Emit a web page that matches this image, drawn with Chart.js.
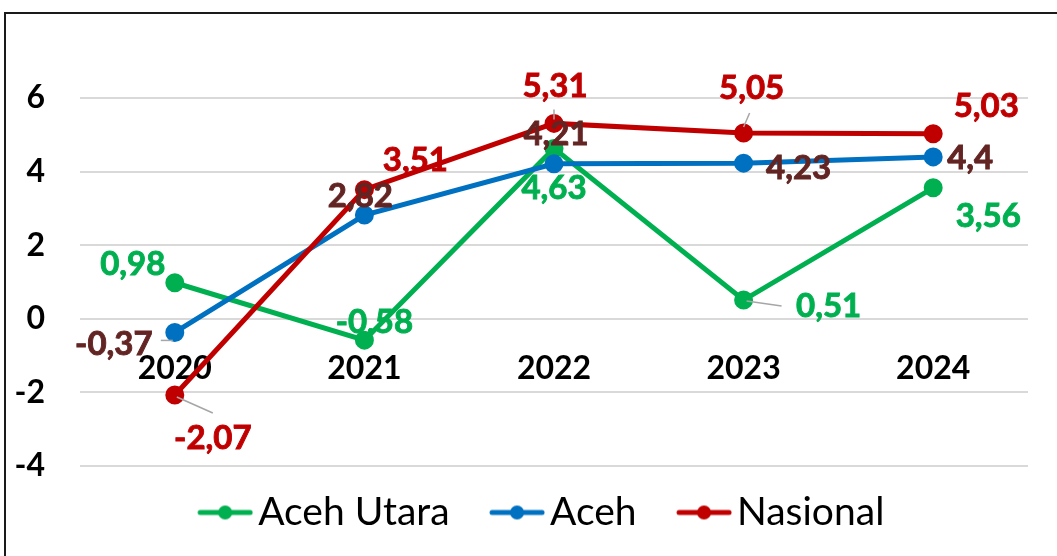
<!DOCTYPE html>
<html>
<head>
<meta charset="utf-8">
<script src="https://cdn.jsdelivr.net/npm/chart.js@4.4.1/dist/chart.umd.min.js"></script>
<style>
  html, body { margin: 0; padding: 0; background: #fff; overflow: hidden; }
  #frame { position: absolute; left: 4px; top: 12px; width: 1100px; height: 600px; border: 2px solid #1a1a1a; }
  #wrap { position: absolute; left: 0; top: 0; width: 1057px; height: 556px; }
</style>
</head>
<body>
<div id="frame"></div>
<div id="wrap"><canvas id="growthChart" width="1057" height="556"></canvas></div>
<script>
// data
const years = ["2020", "2021", "2022", "2023", "2024"];
const acehUtara = [0.98, -0.58, 4.63, 0.51, 3.56];
const aceh = [-0.37, 2.82, 4.21, 4.23, 4.4];
const nasional = [-2.07, 3.51, 5.31, 5.05, 5.03];
const yMin = -4, yMax = 6, yStep = 2;

const FONT = "Lato, 'Open Sans', sans-serif";

// label placement around each point (pixels), per series
const labelOffsets = [
    [[-42, -18], [10, -18], [0, 40], [85, 6], [55, 29]],
    [[-61, 12], [-4, -19], [2, -30], [55, 5], [37, 1]],
    [[38, 43], [51, -29], [1, -37], [8, -45], [53, -27]]
];
const labelColors = ["#00B050", "#632523", "#C00000"];

// grey leader lines: [series, point, from dx, from dy, to dx, to dy]
const leaders = [
    [2, 0, 2, 2, 38, 18],
    [1, 0, -2, 8, -14, 8],
    [2, 2, 0, -4, 0, -14],
    [2, 3, 0, -6, 6, -20],
    [0, 3, 3, 1, 38, 6]
];

function fmt(v) {
    return String(v).replace(".", ",");
}

function legendIcon(color) {
    const c = document.createElement("canvas");
    c.width = 83;
    c.height = 16;
    const ctx = c.getContext("2d");
    const x0 = c.width - 56;
    ctx.strokeStyle = color;
    ctx.lineWidth = 5;
    ctx.lineCap = "round";
    ctx.beginPath();
    ctx.moveTo(x0 + 3, 8);
    ctx.lineTo(c.width - 3, 8);
    ctx.stroke();
    ctx.fillStyle = color;
    ctx.beginPath();
    ctx.arc(x0 + 28, 8, 7, 0, Math.PI * 2);
    ctx.fill();
    return c;
}

const pointLabels = {
    id: "pointLabels",
    afterDatasetsDraw(chart) {
        const ctx = chart.ctx;
        ctx.save();
        ctx.strokeStyle = "#A6A6A6";
        ctx.lineWidth = 1.5;
        leaders.forEach(function (l) {
            const p = chart.getDatasetMeta(l[0]).data[l[1]];
            ctx.beginPath();
            ctx.moveTo(p.x + l[2], p.y + l[3]);
            ctx.lineTo(p.x + l[4], p.y + l[5]);
            ctx.stroke();
        });
        ctx.font = "bold 33px " + FONT;
        ctx.textAlign = "center";
        ctx.textBaseline = "middle";
        ctx.lineWidth = 0.9;
        chart.data.datasets.forEach(function (ds, i) {
            const meta = chart.getDatasetMeta(i);
            ctx.fillStyle = labelColors[i];
            ctx.strokeStyle = labelColors[i];
            meta.data.forEach(function (p, j) {
                const off = labelOffsets[i][j];
                const t = fmt(ds.data[j]);
                ctx.fillText(t, p.x + off[0], p.y + off[1]);
                ctx.strokeText(t, p.x + off[0], p.y + off[1]);
            });
        });
        ctx.restore();
    }
};

const series = [
    { label: "Aceh Utara", data: acehUtara, color: "#00B050", order: 3 },
    { label: "Aceh", data: aceh, color: "#0070C0", order: 2 },
    { label: "Nasional", data: nasional, color: "#C00000", order: 1 }
];
const icons = series.map(s => legendIcon(s.color));

const canvas = document.getElementById("growthChart");

new Chart(canvas, {
    type: "line",
    data: {
        labels: years,
        datasets: series.map(s => ({
            label: s.label,
            data: s.data,
            borderColor: s.color,
            backgroundColor: s.color,
            pointBackgroundColor: s.color,
            pointBorderColor: s.color,
            borderWidth: 5,
            pointRadius: 7,
            pointHoverRadius: 7,
            tension: 0,
            order: s.order,
            clip: false,
            yAxisID: "y"
        }))
    },
    options: {
        responsive: false,
        animation: false,
        events: [],
        layout: { padding: { top: 98, right: 0, left: 12, bottom: 14 } },
        scales: {
            x: {
                type: "category",
                position: { y: 0 },
                offset: true,
                grid: { display: false },
                border: { display: false },
                ticks: {
                    color: "#000",
                    font: { family: FONT, size: 32, weight: "bold" },
                    padding: 23,
                    maxRotation: 0
                }
            },
            y: {
                min: yMin,
                max: yMax,
                grid: { color: "#D9D9D9", lineWidth: 2, drawTicks: false },
                border: { display: false },
                ticks: {
                    stepSize: yStep,
                    color: "#000",
                    font: { family: FONT, size: 32, weight: "bold" },
                    padding: 35
                },
                afterFit(scale) { scale.width = 68; }
            },
            // empty right axis, only keeps space on the right of the plot
            yRight: {
                position: "right",
                min: yMin,
                max: yMax,
                grid: { display: false },
                border: { display: false },
                ticks: { display: false },
                afterFit(scale) { scale.width = 29; }
            }
        },
        plugins: {
            tooltip: { enabled: false },
            legend: {
                position: "bottom",
                labels: {
                    usePointStyle: true,
                    pointStyleWidth: 54,
                    padding: 27,
                    color: "#000",
                    font: { family: FONT, size: 39 },
                    sort: (a, b) => a.datasetIndex - b.datasetIndex,
                    generateLabels(chart) {
                        const items = Chart.defaults.plugins.legend.labels.generateLabels(chart);
                        items.forEach(it => { it.pointStyle = icons[it.datasetIndex]; });
                        return items;
                    }
                }
            }
        }
    },
    plugins: [pointLabels]
});
</script>
</body>
</html>
